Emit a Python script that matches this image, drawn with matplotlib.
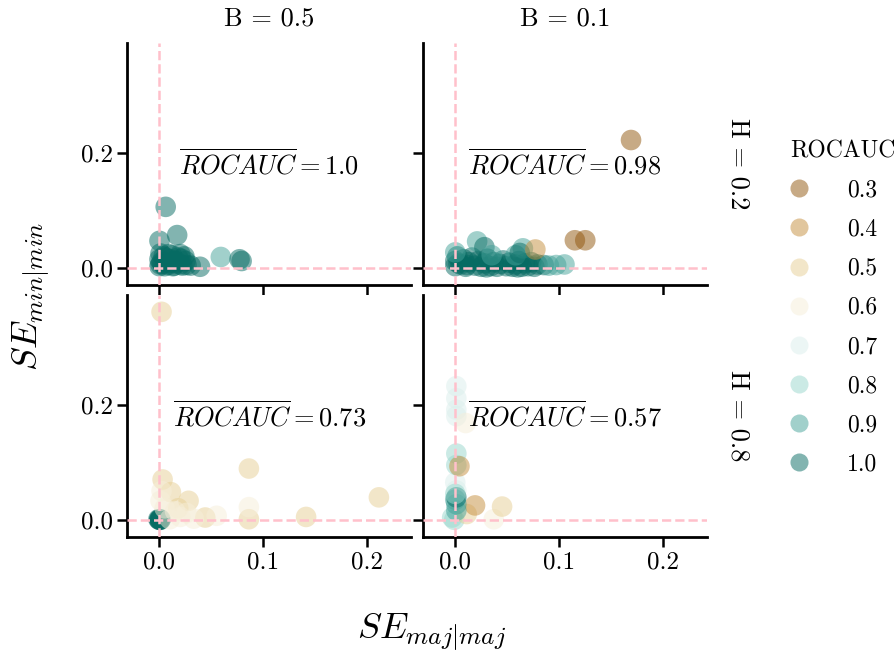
import matplotlib
matplotlib.use("Agg")
import matplotlib.pyplot as plt
from matplotlib.lines import Line2D
from matplotlib.ticker import FormatStrFormatter
import seaborn as sns

plt.rcParams['font.family'] = 'serif'
plt.rcParams['font.serif'] = ['cmr10']
plt.rcParams['mathtext.fontset'] = 'cm'
plt.rcParams['axes.formatter.use_mathtext'] = True

# facet levels
b_levels = [0.5, 0.1]
h_levels = [0.2, 0.8]
auc_levels = [0.3, 0.4, 0.5, 0.6, 0.7, 0.8, 0.9, 1.0]
mean_auc = [[1.0, 0.98], [0.73, 0.57]]

# H = 0.2, B = 0.5
h2b5_x = [0.006, 0.017, 0.000, 0.059, 0.077, 0.079, 0.039, 0.030,
          0.000, 0.002, 0.004, 0.001, 0.008, 0.010, 0.012, 0.006, 0.015, 0.018,
          0.020, 0.022, 0.025, 0.024, 0.005, 0.014, 0.020, 0.026, 0.003, 0.011,
          0.000, 0.016, 0.009, 0.021, 0.001, 0.013]
h2b5_y = [0.106, 0.057, 0.047, 0.019, 0.015, 0.012, 0.002, 0.004,
          0.003, 0.010, 0.020, 0.025, 0.005, 0.015, 0.022, 0.018, 0.008, 0.018,
          0.024, 0.004, 0.012, 0.020, 0.003, 0.004, 0.006, 0.005, 0.007, 0.009,
          0.015, 0.012, 0.024, 0.016, 0.006, 0.003]
h2b5_auc = [1.0, 1.0, 1.0, 0.9, 1.0, 1.0, 1.0, 1.0,
            1.0, 1.0, 1.0, 1.0, 1.0, 1.0, 1.0, 1.0, 1.0, 1.0,
            1.0, 1.0, 1.0, 1.0, 1.0, 1.0, 1.0, 1.0, 1.0, 1.0,
            1.0, 1.0, 1.0, 1.0, 1.0, 1.0]

# H = 0.2, B = 0.1
h2b1_x = [0.000, 0.000, 0.002, 0.005, 0.008, 0.010, 0.013, 0.016, 0.019, 0.022,
          0.025, 0.028, 0.031, 0.034, 0.037, 0.040, 0.043, 0.046, 0.049, 0.052,
          0.055, 0.058, 0.061, 0.064, 0.067, 0.070, 0.073, 0.076, 0.079, 0.003,
          0.011, 0.030, 0.060, 0.021, 0.028, 0.000, 0.065, 0.058, 0.062, 0.085,
          0.090, 0.097, 0.105, 0.035, 0.077, 0.115, 0.125, 0.169]
h2b1_y = [0.003, 0.012, 0.020, 0.006, 0.015, 0.002, 0.010, 0.018, 0.004, 0.012,
          0.002, 0.008, 0.016, 0.003, 0.010, 0.002, 0.007, 0.013, 0.003, 0.009,
          0.002, 0.006, 0.012, 0.002, 0.008, 0.003, 0.010, 0.002, 0.006, 0.008,
          0.005, 0.001, 0.001, 0.046, 0.036, 0.027, 0.034, 0.022, 0.026, 0.005,
          0.004, 0.005, 0.006, 0.022, 0.032, 0.048, 0.048, 0.222]
h2b1_auc = [1.0, 1.0, 1.0, 1.0, 1.0, 1.0, 1.0, 1.0, 1.0, 1.0,
            1.0, 1.0, 1.0, 1.0, 1.0, 1.0, 1.0, 1.0, 1.0, 1.0,
            1.0, 1.0, 1.0, 1.0, 1.0, 1.0, 1.0, 1.0, 1.0, 1.0,
            1.0, 1.0, 1.0, 0.9, 1.0, 0.9, 0.9, 0.9, 1.0, 1.0,
            0.9, 0.9, 0.9, 0.9, 0.4, 0.3, 0.3, 0.3]

# H = 0.8, B = 0.5
h8b5_x = [0.000, 0.001, 0.000, 0.001, 0.000, -0.001,
          0.002, 0.003, 0.086, 0.211, 0.141, 0.086, 0.028, 0.044, 0.011, 0.018,
          0.086, 0.055, 0.001, 0.033, 0.002, 0.015, 0.020, 0.005, 0.010, 0.026]
h8b5_y = [0.000, 0.000, 0.001, 0.001, 0.000, 0.001,
          0.361, 0.070, 0.089, 0.039, 0.005, 0.001, 0.033, 0.004, 0.048, 0.020,
          0.022, 0.007, 0.033, 0.002, 0.050, 0.015, 0.005, 0.020, 0.001, 0.012]
h8b5_auc = [1.0, 1.0, 1.0, 1.0, 1.0, 1.0,
            0.5, 0.5, 0.5, 0.5, 0.5, 0.5, 0.5, 0.5, 0.5, 0.5,
            0.6, 0.6, 0.6, 0.6, 0.6, 0.6, 0.6, 0.6, 0.6, 0.6]

# H = 0.8, B = 0.1
h8b1_x = [0.001, 0.001, 0.001, 0.001, 0.000, 0.001, 0.001, 0.001, -0.001, -0.003,
          0.010, 0.037, 0.045, 0.011, 0.019, 0.004, 0.001, 0.001, 0.000, 0.001,
          0.000]
h8b1_y = [0.232, 0.191, 0.180, 0.051, 0.065, 0.211, 0.115, 0.095, 0.000, 0.004,
          0.168, 0.001, 0.023, 0.010, 0.025, 0.093, 0.027, 0.016, 0.035, 0.039,
          0.045]
h8b1_auc = [0.7, 0.7, 0.7, 0.7, 0.7, 0.7, 0.8, 0.8, 0.8, 0.8,
            0.6, 0.6, 0.5, 0.5, 0.4, 0.4, 0.9, 0.9, 0.9, 1.0,
            0.8]

panels = [[(h2b5_x, h2b5_y, h2b5_auc), (h2b1_x, h2b1_y, h2b1_auc)],
          [(h8b5_x, h8b5_y, h8b5_auc), (h8b1_x, h8b1_y, h8b1_auc)]]

palette = dict(zip(auc_levels, sns.color_palette("BrBG", len(auc_levels))))

fig, axes = plt.subplots(2, 2, figsize=(8.96, 6.55), dpi=100, sharex=True, sharey=True)
fig.subplots_adjust(left=0.142, right=0.789, bottom=0.18, top=0.934,
                    wspace=0.042, hspace=0.041)

for i, h in enumerate(h_levels):
    for j, b in enumerate(b_levels):
        ax = axes[i, j]
        xs, ys, aucs = panels[i][j]
        ax.scatter(xs, ys, c=[palette[a] for a in aucs], s=220, alpha=0.5,
                   linewidths=0, zorder=2)
        ax.axhline(0, color='pink', ls='--', lw=1.8, zorder=3)
        ax.axvline(0, color='pink', ls='--', lw=1.8, zorder=3)
        ax.text(0.5, 0.5, r'$\overline{ROCAUC} = %s$' % mean_auc[i][j],
                transform=ax.transAxes, fontsize=19, ha='center', va='center')
        for side in ['top', 'right']:
            ax.spines[side].set_visible(False)
        for side in ['left', 'bottom']:
            ax.spines[side].set_linewidth(2)
        ax.tick_params(direction='out', length=7, width=1.8, labelsize=18)
        if i == 0:
            ax.set_title(r'B = %s' % b, fontsize=19, pad=13)
        if j == 1:
            ax.text(1.11, 0.5, r'H = %s' % h, transform=ax.transAxes,
                    rotation=270, fontsize=19, va='center', ha='center')

axes[0, 0].set_xlim(-0.031, 0.242)
axes[0, 0].set_ylim(-0.03, 0.39)
axes[0, 0].set_xticks([0.0, 0.1, 0.2])
axes[0, 0].set_yticks([0.0, 0.2])
axes[0, 0].xaxis.set_major_formatter(FormatStrFormatter('%.1f'))
axes[0, 0].yaxis.set_major_formatter(FormatStrFormatter('%.1f'))

fig.text(0.034, 0.547, r'$SE_{min|min}$', rotation=90, fontsize=26,
         va='center', ha='center')
fig.text(0.482, 0.035, r'$SE_{maj|maj}$', fontsize=26, va='center', ha='center')

handles = [Line2D([], [], ls='', marker='o', markersize=13, markeredgewidth=0,
                  color=palette[a], alpha=0.5) for a in auc_levels]
fig.legend(handles, [str(a) for a in auc_levels], title='ROCAUC',
           loc='center left', bbox_to_anchor=(0.858, 0.53), frameon=False,
           alignment='left', fontsize=17, title_fontsize=17, labelspacing=0.72,
           handlelength=0.8, handletextpad=1.6)

fig.savefig('out.png', dpi=100)
